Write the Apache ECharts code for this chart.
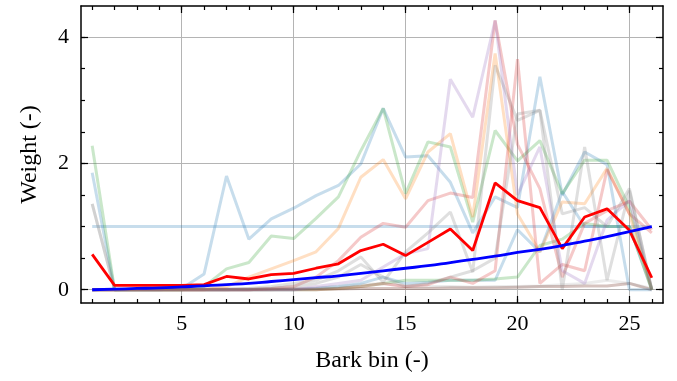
<!DOCTYPE html>
<html>
<head>
<meta charset="utf-8">
<script src="https://cdn.jsdelivr.net/npm/echarts@6/dist/echarts.min.js"></script>
<style>
  html, body { margin: 0; padding: 0; background: #fff; }
  #chart { width: 677px; height: 381px; }
</style>
</head>
<body>
<div id="chart"></div>
<script>
// bark bins 1..26
var bins = [1, 2, 3, 4, 5, 6, 7, 8, 9, 10, 11, 12, 13, 14, 15, 16, 17, 18, 19, 20, 21, 22, 23, 24, 25, 26];

// faint individual weightings
var constOne = [1, 1, 1, 1, 1, 1, 1, 1, 1, 1, 1, 1, 1, 1, 1, 1, 1, 1, 1, 1, 1, 1, 1, 1, 1, 1];
var blueA = [1.85, 0, 0, 0, 0.02, 0.25, 1.8, 0.8, 1.12, 1.29, 1.49, 1.65, 1.99, 2.87, 2.1, 2.12, 1.7, 0.9, 1.47, 1.3, 3.37, 1.5, 2.18, 1.98, 0, 0];
var blueLow = [0, 0, 0, 0, 0, 0, 0, 0, 0, 0, 0.02, 0.05, 0.1, 0.2, 0.1, 0.12, 0.15, 0.15, 0.15, 0.95, 0.6, 1.55, 1.0, 1.0, 1.0, 0];
var green = [2.28, 0, 0, 0, 0, 0.05, 0.33, 0.43, 0.85, 0.81, 1.13, 1.47, 2.2, 2.87, 1.52, 2.34, 2.26, 1.07, 2.52, 2.04, 2.36, 1.52, 2.05, 2.05, 1.3, 0];
var greenLow = [0, 0, 0, 0, 0, 0, 0, 0, 0, 0, 0, 0.02, 0.05, 0.1, 0.15, 0.15, 0.15, 0.15, 0.17, 0.2, 0.7, 0.8, 1.05, 1.0, 1.0, 0];
var orange = [0, 0, 0, 0, 0, 0, 0.05, 0.2, 0.33, 0.46, 0.6, 0.97, 1.78, 2.06, 1.44, 2.18, 2.47, 1.15, 3.74, 1.2, 0.6, 1.39, 1.36, 1.92, 1.2, 0];
var red1 = [0, 0, 0, 0, 0, 0, 0, 0, 0.02, 0.05, 0.2, 0.46, 0.83, 1.05, 0.99, 1.41, 1.53, 1.46, 4.26, 2.3, 1.6, 0.2, 1.05, 1.25, 1.4, 0.95];
var red2 = [0, 0, 0, 0, 0, 0, 0, 0, 0, 0, 0, 0.02, 0.05, 0.1, 0.05, 0.08, 0.2, 0.1, 0.3, 3.65, 0.1, 0.4, 0.3, 1.9, 1.2, 0.9];
var purple = [0, 0, 0, 0, 0, 0, 0, 0, 0, 0, 0.05, 0.1, 0.15, 0.36, 0.57, 0.65, 3.33, 2.73, 4.26, 1.5, 2.26, 0.3, 0.1, 1.1, 1.41, 0];
var gray1 = [1.36, 0, 0, 0, 0, 0, 0, 0.02, 0.05, 0.1, 0.15, 0.3, 0.52, 0.12, 0.6, 0.9, 1.23, 0.28, 3.55, 2.68, 2.84, 0, 2.26, 0.15, 1.57, 0];
var gray2 = [0, 0, 0, 0, 0, 0, 0, 0, 0.02, 0.05, 0.1, 0.2, 0.4, 0.2, 0.05, 0.1, 0.2, 0.3, 0.5, 2.78, 2.84, 1.2, 1.3, 1.0, 1.6, 0];
var lightGray = [1.36, 0, 0, 0, 0, 0, 0, 0, 0, 0.02, 0.03, 0.05, 0.08, 0.1, 0.05, 0.05, 0.05, 0.04, 0.05, 0.05, 0.06, 0.08, 0.1, 0.15, 0.1, 0.02];
var brown = [0, 0, 0.01, 0.01, 0.01, 0.01, 0.01, 0.01, 0.01, 0.01, 0.01, 0.01, 0.02, 0.02, 0.02, 0.02, 0.03, 0.03, 0.03, 0.04, 0.05, 0.05, 0.06, 0.06, 0.1, 0];

// mean weighting (red) and reference curve (blue)
var meanW = [0.56, 0.07, 0.07, 0.07, 0.07, 0.08, 0.21, 0.17, 0.24, 0.26, 0.34, 0.41, 0.62, 0.72, 0.54, 0.75, 0.96, 0.62, 1.69, 1.41, 1.3, 0.65, 1.15, 1.28, 0.94, 0.19];
var curve = [0, 0.01, 0.02, 0.03, 0.045, 0.06, 0.08, 0.1, 0.13, 0.16, 0.19, 0.22, 0.26, 0.3, 0.34, 0.38, 0.43, 0.48, 0.53, 0.59, 0.64, 0.7, 0.77, 0.84, 0.92, 1.0];

// axis ticks
var xMajor = [5, 10, 15, 20, 25];
var xMinor = [1, 2, 3, 4, 5, 6, 7, 8, 9, 10, 11, 12, 13, 14, 15, 16, 17, 18, 19, 20, 21, 22, 23, 24, 25, 26];
var yMajor = [0, 2, 4];
var yMinor = [0, 0.5, 1, 1.5, 2, 2.5, 3, 3.5, 4];

var font = 'Liberation Serif';
var xMin = 0.5, xMax = 26.5, yMin = -0.21, yMax = 4.49;

function pairs(vals) {
    return bins.map(function (b, i) { return [b, vals[i]]; });
}

function xAx(pos, ticks, len, opts) {
    opts = opts || {};
    return {
        type: 'value', position: pos, min: xMin, max: xMax,
        axisLine: { show: !!opts.line, onZero: false, lineStyle: { color: '#000', width: 1.5 } },
        axisTick: { show: true, inside: true, length: len, customValues: ticks, lineStyle: { color: '#000', width: 1.2 } },
        axisLabel: { show: !!opts.label, customValues: ticks, margin: 10, color: '#000', fontFamily: font, fontSize: 22 },
        splitLine: { show: !!opts.split, lineStyle: { color: '#b4b4b4', width: 1 } },
        name: opts.name || '', nameLocation: 'middle', nameGap: 46,
        nameTextStyle: { color: '#000', fontFamily: font, fontSize: 24 }
    };
}

function yAx(pos, ticks, len, opts) {
    opts = opts || {};
    return {
        type: 'value', position: pos, min: yMin, max: yMax,
        axisLine: { show: !!opts.line, onZero: false, lineStyle: { color: '#000', width: 1.5 } },
        axisTick: { show: true, inside: true, length: len, customValues: ticks, lineStyle: { color: '#000', width: 1.2 } },
        axisLabel: { show: !!opts.label, customValues: ticks, margin: 12, color: '#000', fontFamily: font, fontSize: 22 },
        splitLine: { show: !!opts.split, lineStyle: { color: '#b4b4b4', width: 1 } },
        name: opts.name || '', nameLocation: 'middle', nameGap: 39,
        nameTextStyle: { color: '#000', fontFamily: font, fontSize: 24 }
    };
}

function faint(vals, color, alpha) {
    return {
        type: 'line', data: pairs(vals), symbol: 'none', silent: true,
        lineStyle: { color: color, width: 3, opacity: alpha || 0.25 },
        z: 2
    };
}

var chart = echarts.init(document.getElementById('chart'), null, { renderer: 'canvas' });

chart.setOption({
    animation: false,
    backgroundColor: '#fff',
    grid: { left: 81, right: 14, top: 6, bottom: 78 },
    xAxis: [
        xAx('bottom', xMajor, 7, { line: true, label: true, split: true, name: 'Bark bin (-)' }),
        xAx('bottom', xMinor, 4),
        xAx('top', xMajor, 7, { line: true }),
        xAx('top', xMinor, 4)
    ],
    yAxis: [
        yAx('left', yMajor, 7, { line: true, label: true, split: true, name: 'Weight (-)' }),
        yAx('left', yMinor, 4),
        yAx('right', yMajor, 7, { line: true }),
        yAx('right', yMinor, 4)
    ],
    series: [
        faint(constOne, '#1f77b4'),
        faint(brown, '#8c564b', 0.35),
        faint(lightGray, '#7f7f7f', 0.15),
        faint(blueLow, '#1f77b4'),
        faint(greenLow, '#2ca02c'),
        faint(blueA, '#1f77b4'),
        faint(green, '#2ca02c'),
        faint(orange, '#ff7f0e'),
        faint(red1, '#d62728'),
        faint(red2, '#d62728'),
        faint(purple, '#9467bd'),
        faint(gray1, '#7f7f7f'),
        faint(gray2, '#7f7f7f'),
        {
            type: 'line', data: pairs(meanW), symbol: 'none', z: 5,
            lineStyle: { color: '#ff0000', width: 2.8 }
        },
        {
            type: 'line', data: pairs(curve), symbol: 'none', smooth: true, z: 6,
            lineStyle: { color: '#0000ff', width: 2.8 }
        }
    ]
});
</script>
</body>
</html>
